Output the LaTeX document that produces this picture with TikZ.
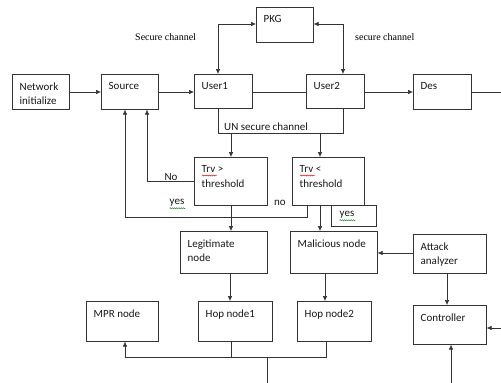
\documentclass[tikz,border=0pt]{standalone}
\usepackage{fontspec}
\newfontfamily\carlito{Carlito}
\newfontfamily\tnr{Liberation Serif}
\usetikzlibrary{arrows.meta,decorations.pathmorphing,calc}
\tikzset{
  box/.style={draw=black!80, line width=0.6pt, anchor=north west, inner sep=0pt},
  txt/.style={anchor=north west, inner xsep=7.5pt, inner ysep=8.5pt, align=left,
              font=\carlito\fontsize{11}{14.5}\selectfont, text=black!90},
  lbl/.style={inner sep=0pt, font=\carlito\fontsize{11}{13}\selectfont, text=black!90},
  serif/.style={inner sep=0pt, font=\tnr\fontsize{10}{12}\selectfont, anchor=west},
  conn/.style={draw=black!80, line width=0.6pt},
  arr/.style={conn, -{Latex[length=5pt,width=4.5pt]}},
  darr/.style={conn, {Latex[length=5pt,width=4.5pt]}-{Latex[length=5pt,width=4.5pt]}},
  squig/.style={decorate, decoration={snake, amplitude=0.6pt, segment length=2.2pt}, line width=0.4pt},
}
\begin{document}
\begin{tikzpicture}[x=1pt,y=-1pt]
\useasboundingbox[fill=white] (0,0) rectangle (501,383);

% boxes
\node[box, minimum width=57pt, minimum height=35pt] (pkg) at (256,7) {};
\node[txt] (pkgt) at (pkg.north west) {PKG};
\node[box, minimum width=57pt, minimum height=35pt] (net) at (12,74) {};
\node[txt] (nett) at (net.north west) {Network\\initialize};
\node[box, minimum width=57pt, minimum height=35pt] (src) at (101,74) {};
\node[txt] (srct) at (src.north west) {Source};
\node[box, minimum width=58pt, minimum height=34pt] (u1) at (194,74) {};
\node[txt] (u1t) at (u1.north west) {User1};
\node[box, minimum width=58pt, minimum height=34pt] (u2) at (306,74) {};
\node[txt] (u2t) at (u2.north west) {User2};
\node[box, minimum width=58pt, minimum height=35pt] (des) at (413,74) {};
\node[txt] (dest) at (des.north west) {Des};

\node[box, minimum width=73pt, minimum height=48pt] (tr1) at (194,157) {};
\node[txt] (tr1t) at (tr1.north west) {Trv >\\threshold};
\node[box, minimum width=72pt, minimum height=48pt] (tr2) at (292,157) {};
\node[txt] (tr2t) at (tr2.north west) {Trv <\\threshold};
\node[box, minimum width=45pt, minimum height=21pt] (yesb) at (331,205) {};
\node[lbl] (yesbt) at (347,215) {yes};

\node[box, minimum width=87pt, minimum height=42pt] (leg) at (180,231) {};
\node[txt] (legt) at (leg.north west) {Legitimate\\node};
\node[box, minimum width=87pt, minimum height=42pt] (mal) at (290,231) {};
\node[txt] (malt) at (mal.north west) {Malicious node};
\node[box, minimum width=73pt, minimum height=39pt] (att) at (413,234) {};
\node[txt] (attt) at (att.north west) {Attack\\analyzer};

\node[box, minimum width=72pt, minimum height=40pt] (mpr) at (86,301) {};
\node[txt] (mprt) at (mpr.north west) {MPR node};
\node[box, minimum width=74pt, minimum height=40pt] (hop1) at (198,301) {};
\node[txt] (hop1t) at (hop1.north west) {Hop node1};
\node[box, minimum width=74pt, minimum height=40pt] (hop2) at (297,301) {};
\node[txt] (hop2t) at (hop2.north west) {Hop node2};
\node[box, minimum width=73pt, minimum height=39pt] (ctl) at (413,305) {};
\node[txt] (ctlt) at (ctl.north west) {Controller};

% labels
\node[serif] (sc1) at (135,37) {Secure channel};
\node[serif] (sc2) at (355,37) {secure channel};
\node[lbl, anchor=west] (unsec) at (224,127) {UN secure channel};
\node[lbl] (nolbl) at (171,177) {No};
\node[lbl] (yeslbl) at (177,203) {yes};
\node[lbl] (nolbl2) at (280,203) {no};

% helper coordinates
\coordinate (y92) at (0,92);
\coordinate (y24) at (0,24);
\coordinate (y133) at (0,133);
\coordinate (y181) at (0,181);
\coordinate (y217) at (0,217);
\coordinate (y253) at (0,253);
\coordinate (y357) at (0,357);
\coordinate (x125) at (125,0);
\coordinate (x147) at (147,0);
\coordinate (x218) at (218,0);
\coordinate (x230) at (230,0);
\coordinate (x231) at (231,0);
\coordinate (x267) at (267,0);
\coordinate (x307) at (307,0);
\coordinate (x320) at (320,0);
\coordinate (x325) at (325,0);
\coordinate (x326) at (326,0);
\coordinate (x343) at (343,0);
\coordinate (x447) at (447,0);
\coordinate (rightend) at (501,92);
\coordinate (ctlin) at (501,328);
\coordinate (ctlbot) at (451,383);
\coordinate (bottom) at (267,383);

% top row
\draw[arr] (net.east |- y92) -- (src.west |- y92);
\draw[arr] (src.east |- y92) -- (u1.west |- y92);
\draw[conn] (u1.east |- y92) -- (u2.west |- y92);
\draw[arr] (u2.east |- y92) -- (des.west |- y92);
\draw[conn] (des.east |- y92) -- (rightend);

% PKG links
\draw[darr] (pkg.west |- y24) -- (x218 |- y24) -- (x218 |- u1.north);
\draw[darr] (pkg.east |- y24) -- (x343 |- y24) -- (x343 |- u2.north);

% unsecure channel
\draw[conn] (x218 |- u1.south) -- (x218 |- y133) -- (x343 |- y133) -- (x343 |- u2.south);
\draw[arr] (x231 |- y133) -- (x231 |- tr1.north);
\draw[arr] (x320 |- y133) -- (x320 |- tr2.north);

% feedback
\draw[arr] (tr1.west |- y181) -- (x147 |- y181) -- (x147 |- src.south);
\draw[arr] (x307 |- tr2.south) -- (x307 |- y217) -- (x125 |- y217) -- (x125 |- src.south);

% downward
\draw[arr] (x231 |- tr1.south) -- (x231 |- leg.north);
\draw[arr] (x320 |- tr2.south) -- (x320 |- mal.north);
\draw[arr] (x230 |- leg.south) -- (x230 |- hop1.north);
\draw[arr] (x325 |- mal.south) -- (x325 |- hop2.north);
\draw[arr] (att.west |- y253) -- (mal.east |- y253);
\draw[arr] (x447 |- att.south) -- (x447 |- ctl.north);
\draw[arr] (ctlin) -- (ctl.east |- ctlin);
\draw[arr] (ctlbot) -- (ctlbot |- ctl.south);

% bottom bus
\draw[conn] (x231 |- hop1.south) -- (x231 |- y357);
\draw[arr] (x326 |- hop2.south) -- (x326 |- y357) -- (x125 |- y357) -- (x125 |- mpr.south);
\draw[conn] (x267 |- y357) -- (bottom);

% spell-check squiggles
\draw[red!80!black, squig] ($(tr1.north west)+(8,18.5)$) -- ++(15,0);
\draw[red!80!black, squig] ($(tr2.north west)+(8,18.5)$) -- ++(15,0);
\draw[green!50!black, squig] ($(yeslbl.south west)+(0,1.5)$) -- ++(16,0);
\draw[green!50!black, squig] ($(yesbt.south west)+(0,1.5)$) -- ++(16,0);
\end{tikzpicture}
\end{document}
